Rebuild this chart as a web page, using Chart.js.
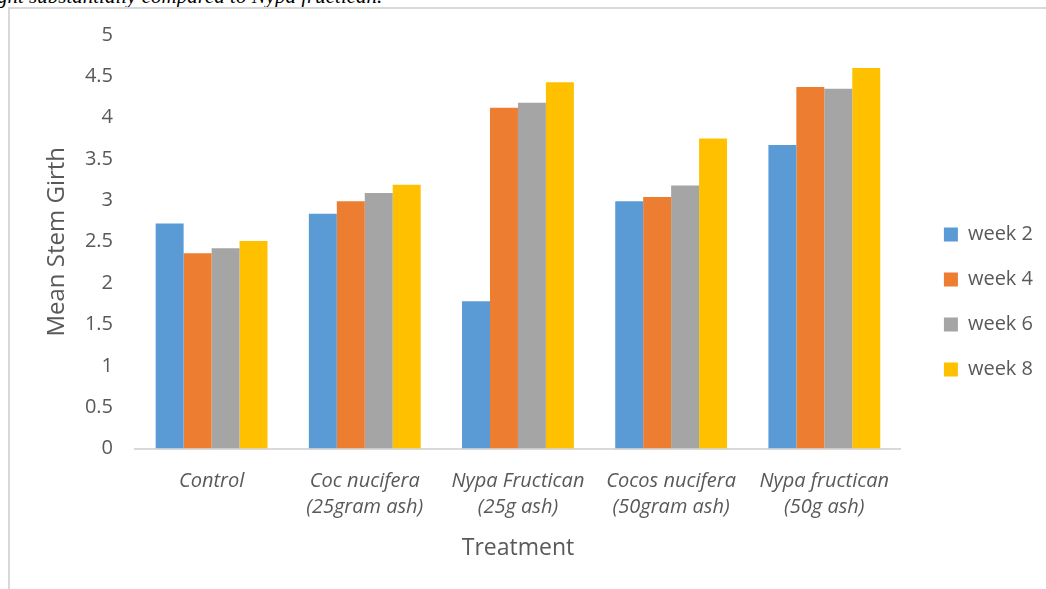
<!DOCTYPE html>
<html>
<head>
<meta charset="utf-8">
<script src="https://cdn.jsdelivr.net/npm/chart.js@4.4.1/dist/chart.umd.min.js"></script>
<style>
  html, body { margin: 0; padding: 0; background: #fff; overflow: hidden; }
  #page { position: relative; width: 1046px; height: 589px; }
  #cut-text {
    position: absolute; left: -3px; top: -16px; white-space: nowrap;
    font: italic 21px "Liberation Serif", serif; color: #000;
  }
  #frame {
    position: absolute; left: 8px; top: 7px; width: 1200px; height: 800px;
    border-left: 2px solid #d9d9d9; border-top: 2px solid #d9d9d9;
  }
  #wrap { position: absolute; left: 0; top: 0; width: 1046px; height: 589px; }
</style>
</head>
<body>
<div id="page">
  <div id="cut-text">ght substantially compared to Nypa fructican.</div>
  <div id="frame"></div>
  <div id="wrap"><canvas id="girthChart"></canvas></div>
</div>
<script>
// --- Data ---
const treatments = [
    ['Control'],
    ['Coc nucifera', '(25gram ash)'],
    ['Nypa Fructican', '(25g ash)'],
    ['Cocos nucifera', '(50gram ash)'],
    ['Nypa fructican', '(50g ash)']
];
const seriesNames = ['week 2', 'week 4', 'week 6', 'week 8'];
const week2 = [2.72, 2.84, 1.78, 2.99, 3.67];
const week4 = [2.36, 2.99, 4.12, 3.04, 4.37];
const week6 = [2.42, 3.09, 4.18, 3.18, 4.35];
const week8 = [2.51, 3.19, 4.43, 3.75, 4.60];
const yTickLabels = ['0', '0.5', '1', '1.5', '2', '2.5', '3', '3.5', '4', '4.5', '5'];

const barColors = ['#5B9BD5', '#ED7D31', '#A5A5A5', '#FFC000'];
const textColor = '#595959';

Chart.defaults.font.family = '"Open Sans", Lato, sans-serif';
Chart.defaults.color = textColor;

// nudge the legend a bit away from the plot area (Excel style gap)
const legendGap = {
    id: 'legendGap',
    afterLayout(chart) {
        const lg = chart.legend;
        if (!lg) return;
        const dx = chart.chartArea.right + 18 - lg.left;
        lg.left += dx;
        lg.right += dx;
        lg.top += 2;
        lg.bottom += 2;
    }
};

const ctx = document.getElementById('girthChart').getContext('2d');
new Chart(ctx, {
    type: 'bar',
    data: {
        labels: treatments,
        datasets: [week2, week4, week6, week8].map((vals, i) => ({
            label: seriesNames[i],
            data: vals,
            backgroundColor: barColors[i],
            borderWidth: 0,
            categoryPercentage: 0.73,
            barPercentage: 1.0
        }))
    },
    options: {
        responsive: true,
        maintainAspectRatio: false,
        animation: false,
        layout: { padding: { top: 35, left: 0, right: 21, bottom: 24 } },
        plugins: {
            tooltip: { enabled: false },
            legend: {
                position: 'right',
                labels: {
                    boxWidth: 14,
                    boxHeight: 14,
                    padding: 25,
                    color: textColor,
                    font: { size: 20 }
                }
            }
        },
        scales: {
            x: {
                grid: { display: false, drawTicks: false },
                border: { display: true, color: '#D9D9D9', width: 2 },
                ticks: {
                    padding: 20,
                    color: textColor,
                    maxRotation: 0,
                    autoSkip: false,
                    font: { size: 20, style: 'italic', lineHeight: 1.3 }
                },
                title: {
                    display: true,
                    text: 'Treatment',
                    color: textColor,
                    font: { size: 23 },
                    padding: { top: 0, bottom: 3 }
                },
                afterFit(scale) { scale.height = 116.5; }
            },
            y: {
                min: 0,
                max: 5,
                grid: { display: false, drawTicks: false },
                border: { display: false },
                ticks: {
                    stepSize: 0.5,
                    padding: 22,
                    color: textColor,
                    font: { size: 20 },
                    callback: (value, index) => yTickLabels[index]
                },
                title: {
                    display: true,
                    text: 'Mean Stem Girth',
                    color: textColor,
                    font: { size: 24 },
                    padding: { top: 43, bottom: 0 }
                },
                afterFit(scale) { scale.width = 135; }
            }
        }
    },
    plugins: [legendGap]
});
</script>
</body>
</html>
